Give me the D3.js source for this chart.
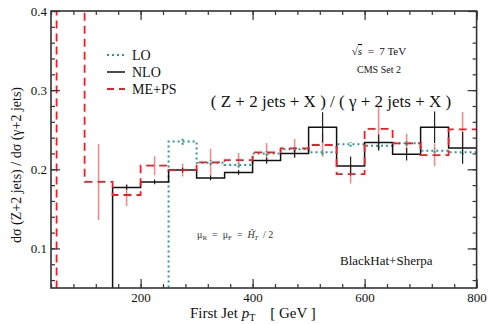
<!DOCTYPE html>
<html>
<head>
<meta charset="utf-8">
<script src="https://cdn.jsdelivr.net/npm/d3@7"></script>
<style>
  body { margin: 0; background: #fff; }
  svg text { font-family: "Liberation Serif", "DejaVu Serif", serif; }
</style>
</head>
<body>
<div id="chart"></div>
<script>
// bin edges (GeV), 50 GeV wide
const edges = [50, 100, 150, 200, 250, 300, 350, 400, 450, 500, 550, 600, 650, 700, 750, 800];

// NLO (starts at 150)
const nloStart = 150;
const nloVals = [0.177, 0.184, 0.199, 0.189, 0.196, 0.211, 0.220, 0.253, 0.204, 0.234, 0.219, 0.253, 0.227];
const nloErr  = [0.003, 0.003, 0.003, 0.003, 0.003, 0.004, 0.005, 0.019, 0.012, 0.010, 0.008, 0.020, 0.020];

// ME+PS (starts at 50, first bin off scale)
const mepsStart = 50;
const mepsVals = [0.60, 0.184, 0.1675, 0.2045, 0.199, 0.2088, 0.2117, 0.2213, 0.2265, 0.2307, 0.194, 0.251, 0.2328, 0.218, 0.2505];
const mepsErr  = [0, 0.048, 0.014, 0.012, 0.008, 0.017, 0.009, 0.012, 0.012, 0.015, 0.012, 0.028, 0.012, 0.014, 0.022];

// LO (starts at 250)
const loStart = 250;
const loVals = [0.235, 0.2083, 0.2054, 0.220, 0.2252, 0.2214, 0.2316, 0.2298, 0.2328, 0.2235, 0.2214];
const loErr  = [0.004, 0.003, 0.003, 0.003, 0.003, 0.003, 0.003, 0.003, 0.003, 0.003, 0.003];

const xTicks = [200, 400, 600, 800];
const yTicks = [0.1, 0.2, 0.3, 0.4];

const width = 488, height = 324;
const margin = { top: 11, right: 11.4, bottom: 36, left: 51 };
const w = width - margin.left - margin.right;
const h = height - margin.top - margin.bottom;

const svg = d3.select('#chart').append('svg')
  .attr('width', width).attr('height', height);

const x = d3.scaleLinear().domain([40, 800]).range([0, w]);
const y = d3.scaleLinear().domain([0.05, 0.4]).range([h, 0]);

const g = svg.append('g').attr('transform', `translate(${margin.left},${margin.top})`);

g.append('clipPath').attr('id', 'clip')
  .append('rect').attr('width', w).attr('height', h);

const plot = g.append('g').attr('clip-path', 'url(#clip)');

// helper: build step series from start edge + values
function steps(start, vals) {
  const pts = [[start, 0]];
  vals.forEach((v, i) => pts.push([start + i * 50, v]));
  pts.push([start + vals.length * 50, vals[vals.length - 1]]);
  return pts;
}
const stepLine = d3.line()
  .x(d => x(d[0])).y(d => y(d[1]))
  .curve(d3.curveStepAfter);

const red = '#f21c24', pink = '#f58a8a', teal = '#2a9a8e';

// error bars
function errBars(start, vals, errs, color, width, dash) {
  plot.append('g').selectAll('line')
    .data(vals.map((v, i) => ({ c: start + i * 50 + 25, v, e: errs[i] })).filter(d => d.e > 0))
    .join('line')
    .attr('x1', d => x(d.c)).attr('x2', d => x(d.c))
    .attr('y1', d => y(d.v - d.e)).attr('y2', d => y(d.v + d.e))
    .attr('stroke', color).attr('stroke-width', width)
    .attr('stroke-dasharray', dash || null);
}

errBars(mepsStart, mepsVals, mepsErr, pink, 1.6);
errBars(loStart, loVals, loErr, teal, 2, '2,2');
errBars(nloStart, nloVals, nloErr, '#222', 1.2);

plot.append('path').datum(steps(loStart, loVals))
  .attr('d', stepLine).attr('fill', 'none')
  .attr('stroke', teal).attr('stroke-width', 2).attr('stroke-dasharray', '2,3');

plot.append('path').datum(steps(nloStart, nloVals))
  .attr('d', stepLine).attr('fill', 'none')
  .attr('stroke', '#111').attr('stroke-width', 1.5);

plot.append('path').datum(steps(mepsStart, mepsVals))
  .attr('d', stepLine).attr('fill', 'none')
  .attr('stroke', red).attr('stroke-width', 1.8).attr('stroke-dasharray', '8,5');

// axes: inward ticks on all four sides
const minorX = d3.range(40, 801, 40);
const minorY = d3.range(0.06, 0.401, 0.02);
const axisColor = '#333';

function styleAxis(sel) {
  sel.select('.domain').remove();
  sel.selectAll('line').attr('stroke', axisColor).attr('stroke-width', 1.2);
  sel.selectAll('text').attr('fill', '#111').style('font-size', '13px');
}

g.append('g').attr('transform', `translate(0,${h})`)
  .call(d3.axisBottom(x).tickValues(minorX).tickSize(-4).tickFormat(''))
  .call(styleAxis);
g.append('g').attr('transform', `translate(0,${h})`)
  .call(d3.axisBottom(x).tickValues(xTicks).tickSize(-9).tickPadding(5).tickFormat(d3.format('d')))
  .call(styleAxis);
g.append('g')
  .call(d3.axisTop(x).tickValues(minorX).tickSize(-4).tickFormat(''))
  .call(styleAxis);
g.append('g')
  .call(d3.axisTop(x).tickValues(xTicks).tickSize(-9).tickFormat(''))
  .call(styleAxis);

g.append('g')
  .call(d3.axisLeft(y).tickValues(minorY).tickSize(-4).tickFormat(''))
  .call(styleAxis);
g.append('g')
  .call(d3.axisLeft(y).tickValues(yTicks).tickSize(-9).tickPadding(4).tickFormat(d3.format('.1f')))
  .call(styleAxis);
g.append('g').attr('transform', `translate(${w},0)`)
  .call(d3.axisRight(y).tickValues(minorY).tickSize(-4).tickFormat(''))
  .call(styleAxis);
g.append('g').attr('transform', `translate(${w},0)`)
  .call(d3.axisRight(y).tickValues(yTicks).tickSize(-9).tickFormat(''))
  .call(styleAxis);

g.append('rect').attr('width', w).attr('height', h)
  .attr('fill', 'none').attr('stroke', axisColor).attr('stroke-width', 1.6);

// axis titles
svg.append('text')
  .attr('transform', `translate(21,165) rotate(-90)`)
  .attr('text-anchor', 'middle').style('font-size', '14px').attr('fill', '#111')
  .text('dσ (Z+2 jets) / dσ (γ+2 jets)');

const xl = svg.append('text').attr('x', 190).attr('y', 318)
  .style('font-size', '15px').attr('fill', '#111');
xl.append('tspan').text('First  Jet  ');
xl.append('tspan').style('font-style', 'italic').text('p');
xl.append('tspan').attr('dy', 3).style('font-size', '10px').text('T');
xl.append('tspan').attr('dy', -3).attr('xml:space', 'preserve').text('    [ GeV ]');

// legend
const legend = [
  { name: 'LO', color: teal, dash: '2,3', width: 2 },
  { name: 'NLO', color: '#111', dash: null, width: 1.5 },
  { name: 'ME+PS', color: red, dash: '7,5', width: 1.8 }
];
const lg = svg.append('g').attr('transform', 'translate(107,55)');
legend.forEach((d, i) => {
  lg.append('line').attr('x1', 0).attr('x2', 18).attr('y1', i * 17).attr('y2', i * 17)
    .attr('stroke', d.color).attr('stroke-width', d.width).attr('stroke-dasharray', d.dash);
  lg.append('text').attr('x', 25).attr('y', i * 17 + 5)
    .style('font-size', '14px').attr('fill', '#111').text(d.name);
});

// annotations
const rs = svg.append('text').attr('x', 379).attr('y', 55)
  .attr('text-anchor', 'middle').style('font-size', '11px').attr('fill', '#111');
rs.append('tspan').text('√');
rs.append('tspan').style('font-style', 'italic').style('text-decoration', 'overline').text('s');
rs.append('tspan').attr('xml:space', 'preserve').text('  =  7 TeV');

svg.append('text').attr('x', 379).attr('y', 73).attr('text-anchor', 'middle')
  .style('font-size', '10px').attr('fill', '#111').text('CMS Set 2');

svg.append('text').attr('x', 331).attr('y', 107).attr('text-anchor', 'middle')
  .style('font-size', '17px').attr('fill', '#111')
  .text('( Z + 2 jets + X ) / ( γ + 2 jets + X )');

const mu = svg.append('text').attr('x', 197).attr('y', 238)
  .style('font-size', '10px').attr('fill', '#333');
mu.append('tspan').text('μ');
mu.append('tspan').attr('dy', 2).style('font-size', '7px').text('R');
mu.append('tspan').attr('dy', -2).attr('xml:space', 'preserve').text('  =  μ');
mu.append('tspan').attr('dy', 2).style('font-size', '7px').text('F');
mu.append('tspan').attr('dy', -2).attr('xml:space', 'preserve').text('  =  ');
mu.append('tspan').style('font-style', 'italic').text('Ĥ');
mu.append('tspan').attr('dy', -4).style('font-size', '6px').text('′');
mu.append('tspan').attr('dx', -2).attr('dy', 6).style('font-size', '7px').style('font-style', 'italic').text('T');
mu.append('tspan').attr('dy', -2).attr('xml:space', 'preserve').text('  / 2');

svg.append('text').attr('x', 340).attr('y', 265)
  .style('font-size', '13px').attr('fill', '#111').text('BlackHat+Sherpa');
</script>
</body>
</html>
